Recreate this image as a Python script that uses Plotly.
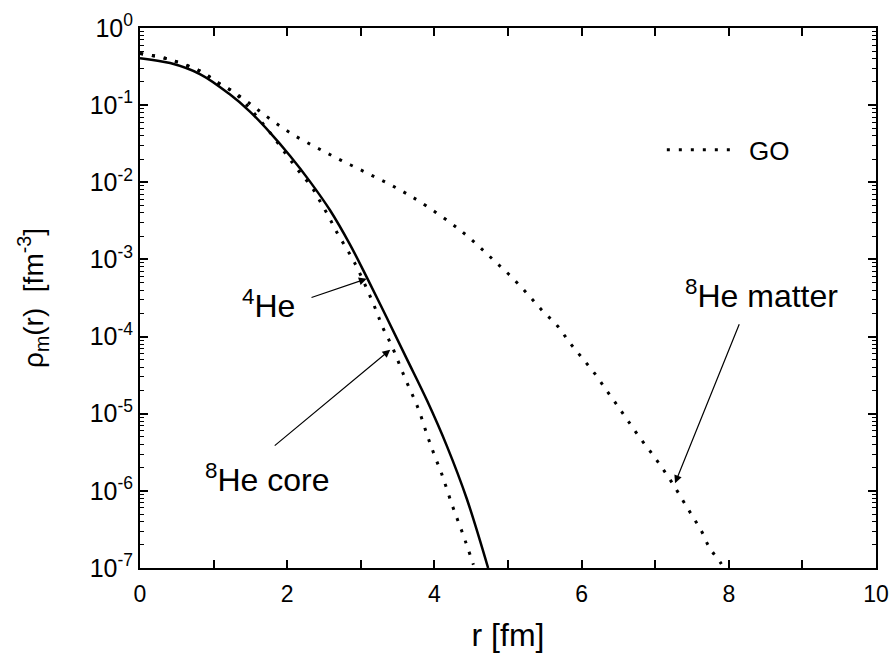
import plotly.graph_objects as go

# ---- data ----
r_he4 = [0, 0.41, 0.82, 1.22, 1.49, 1.77, 2.04, 2.31, 2.58, 2.85, 3.08, 3.35, 3.62, 3.90, 4.17, 4.44, 4.73]
rho_he4 = [0.407, 0.351, 0.251, 0.138, 0.0832, 0.0437, 0.0219, 0.0102, 0.00437, 0.00158,
           5.9e-4, 1.78e-4, 5.25e-5, 1.48e-5, 3.8e-6, 7.9e-7, 1.0e-7]

r_core = [0, 0.41, 0.84, 1.04, 1.27, 1.49, 1.77, 2.01, 2.17, 2.34, 2.45, 2.57, 2.67, 2.92,
          3.19, 3.30, 3.42, 3.60, 3.78, 3.91, 4.00, 4.10, 4.24, 4.39, 4.53]
rho_core = [0.468, 0.389, 0.269, 0.2, 0.148, 0.0912, 0.0437, 0.0214, 0.0135, 0.0085, 0.0056,
            0.0035, 0.00229, 8.9e-4, 2.4e-4, 1.3e-4, 7.6e-5, 2.9e-5, 1.17e-5, 5.0e-6,
            2.9e-6, 1.65e-6, 6.6e-7, 2.7e-7, 1.1e-7]

r_matter = [0, 0.41, 0.84, 1.04, 1.27, 1.49, 1.67, 1.90, 2.11, 2.34, 2.54, 2.74, 2.96, 3.17,
            3.38, 3.59, 3.80, 4.21, 4.44, 4.66, 4.85, 5.05, 5.26, 5.46, 5.67, 5.84, 6.00, 6.18,
            6.34, 6.49, 6.63, 6.79, 6.96, 7.10, 7.24, 7.38, 7.50, 7.63, 7.74, 7.88, 7.93]
rho_matter = [0.468, 0.389, 0.269, 0.2, 0.148, 0.105, 0.0776, 0.0537, 0.0398, 0.0302, 0.024,
              0.0191, 0.0151, 0.012, 0.00955, 0.00741, 0.00562, 0.00302, 0.00204, 0.00132,
              8.9e-4, 5.9e-4, 3.6e-4, 2.2e-4, 1.38e-4, 8.3e-5, 5.4e-5, 3.3e-5, 2.0e-5,
              1.26e-5, 8.1e-6, 4.9e-6, 3.0e-6, 1.95e-6, 1.23e-6, 7.4e-7, 4.8e-7, 3.0e-7,
              1.82e-7, 1.2e-7, 1.0e-7]

x_tickvals = [0, 2, 4, 6, 8, 10]
x_ticktext = ["0", "2", "4", "6", "8", "10"]
y_tickvals = [1e-7, 1e-6, 1e-5, 1e-4, 1e-3, 1e-2, 1e-1, 1]
y_ticktext = ["10<sup>-7</sup>", "10<sup>-6</sup>", "10<sup>-5</sup>", "10<sup>-4</sup>",
              "10<sup>-3</sup>", "10<sup>-2</sup>", "10<sup>-1</sup>", "10<sup>0</sup>"]

FONT = "Liberation Sans, Arial, sans-serif"
DOTS = "3px,9px"

fig = go.Figure()
fig.add_trace(go.Scatter(x=r_he4, y=rho_he4, mode="lines", name="4He",
                         line=dict(color="black", width=2.5, shape="spline", smoothing=1.0),
                         showlegend=False))
fig.add_trace(go.Scatter(x=r_core, y=rho_core, mode="lines", name="8He core",
                         line=dict(color="black", width=3, dash=DOTS, shape="spline"),
                         showlegend=False))
fig.add_trace(go.Scatter(x=r_matter, y=rho_matter, mode="lines", name="\u00a0GO",
                         line=dict(color="black", width=3, dash=DOTS, shape="spline"),
                         showlegend=True))

# labels
labels = [
    ("<sup>4</sup>He", 1.75, -3.58),
    ("<sup>8</sup>He core", 1.73, -5.83),
    ("<sup>8</sup>He matter", 8.44, -3.45),
]
for txt, lx, ly in labels:
    fig.add_annotation(x=lx, y=ly, xref="x", yref="y", text=txt, showarrow=False,
                       font=dict(family=FONT, size=32, color="black"))

# arrows: (tip x, tip log y, tail x, tail log y)
arrows = [
    (3.08, -3.25, 2.31, -3.50),
    (3.40, -4.17, 1.81, -5.43),
    (7.27, -5.90, 8.15, -3.82),
]
for tx, ty, sx, sy in arrows:
    fig.add_annotation(x=tx, y=ty, xref="x", yref="y", ax=sx, ay=sy, axref="x", ayref="y",
                       text="", showarrow=True, arrowhead=2, arrowsize=1.3, arrowwidth=1.2,
                       arrowcolor="black", standoff=0, startstandoff=0)

axis_common = dict(showline=True, linecolor="black", linewidth=2, mirror="allticks",
                   ticks="inside", ticklen=8, tickwidth=1.5, tickcolor="black",
                   showgrid=False, zeroline=False)

fig.update_xaxes(range=[0, 10], tickmode="array", tickvals=x_tickvals, ticktext=x_ticktext,
                 tickfont=dict(family=FONT, size=23, color="black"), ticklabelstandoff=4,
                 minor=dict(ticks="inside", dtick=1, tick0=0, ticklen=8, tickwidth=1.5,
                            tickcolor="black", showgrid=False),
                 title=dict(text="r [fm]", font=dict(family=FONT, size=32, color="black"),
                            standoff=20),
                 **axis_common)
fig.update_yaxes(type="log", range=[-7, 0], tickmode="array", tickvals=y_tickvals,
                 ticktext=y_ticktext, tickfont=dict(family=FONT, size=25, color="black"),
                 minor=dict(ticks="inside", dtick="D1", ticklen=4, tickwidth=1.2,
                            tickcolor="black", showgrid=False),
                 title=dict(text="ρ<sub>m</sub>(r)  [fm<sup>-3</sup>]",
                            font=dict(family=FONT, size=28, color="black"), standoff=38),
                 **axis_common)

fig.update_layout(
    width=893, height=653,
    margin=dict(l=140, r=17, t=28, b=85, autoexpand=False),
    plot_bgcolor="white", paper_bgcolor="white",
    font=dict(family=FONT, color="black"),
    legend=dict(x=0.709, y=0.818, xanchor="left", yanchor="top",
                bgcolor="rgba(0,0,0,0)", borderwidth=0,
                font=dict(family=FONT, size=26, color="black"), itemwidth=70),
)

# remove the browser's default 8px body margin so the figure fills the window exactly
fig.write_html("out.html", config={"displayModeBar": False},
               post_script="document.body.style.margin='0';document.body.style.overflow='hidden';")
